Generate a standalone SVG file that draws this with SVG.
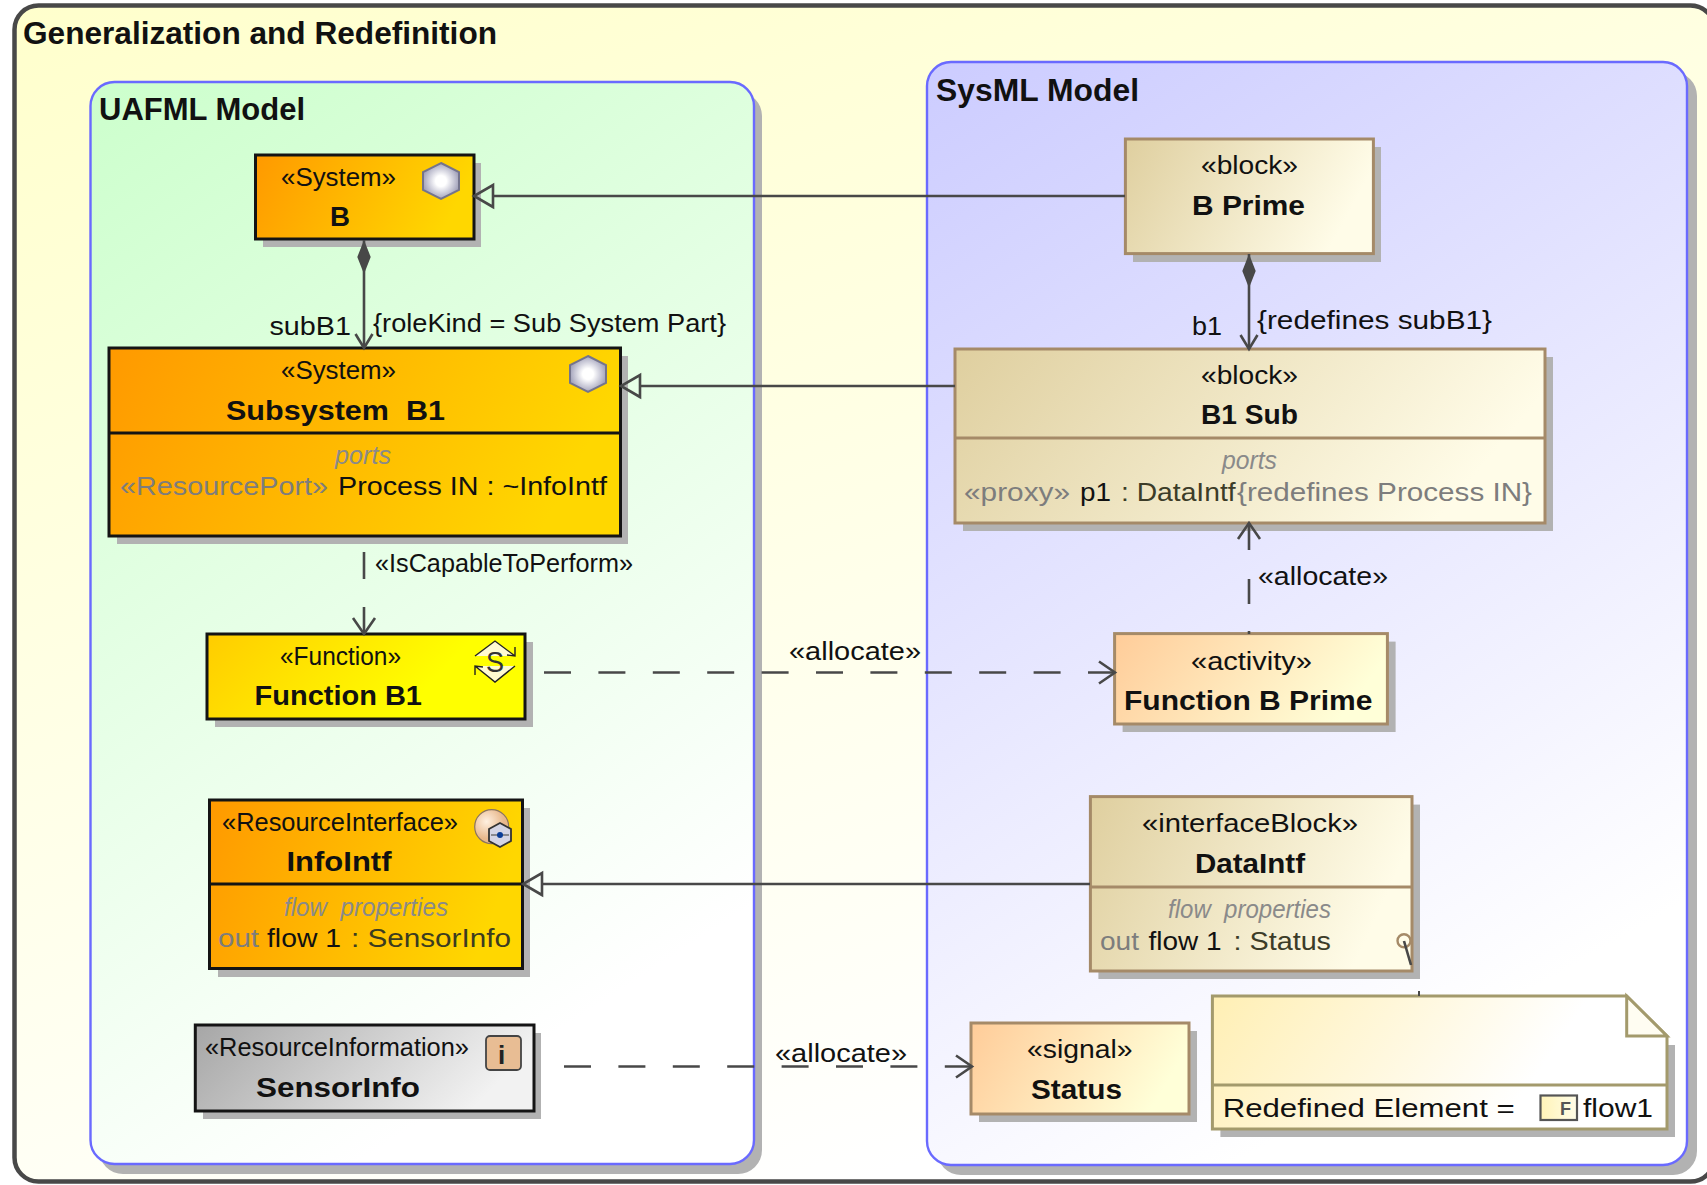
<svg xmlns="http://www.w3.org/2000/svg" width="1707" height="1185" viewBox="0 0 1707 1185">
<style>
text{font-family:"Liberation Sans",Arial,sans-serif;fill:#111;font-size:26px}
.n{font-size:25px}
.b{font-weight:bold;font-size:27px}
.h{font-weight:bold;font-size:31px}
.i{font-style:italic;fill:#8a8a8a;font-size:25px}
.g{fill:#7d7d7d}
.sh{fill:#b2b2b2}
.k{stroke:#141414;stroke-width:3}
.t{stroke:#a58a68;stroke-width:3}
.c{fill:none;stroke:#484848;stroke-width:2.6}
.m{fill:none;stroke:#484848;stroke-width:2.6}
.d{stroke-dasharray:27 27.4}
.hex{fill:url(#hexG);stroke:#74748c;stroke-width:2}
</style>
<defs>
<linearGradient id="frameG" x1="0" y1="0" x2="0.5" y2="1"><stop offset="0" stop-color="#ffffcc"/><stop offset="1" stop-color="#ffffff"/></linearGradient>
<linearGradient id="greenG" x1="0" y1="0" x2="0.4" y2="1"><stop offset="0" stop-color="#ccffcc"/><stop offset="1" stop-color="#ffffff"/></linearGradient>
<linearGradient id="blueG" x1="0" y1="0" x2="0.4" y2="1"><stop offset="0" stop-color="#ccccff"/><stop offset="1" stop-color="#ffffff"/></linearGradient>
<linearGradient id="orangeG" x1="0" y1="0" x2="1" y2="0.2"><stop offset="0" stop-color="#ff9900"/><stop offset="1" stop-color="#ffd700"/></linearGradient>
<linearGradient id="yellowG" x1="0" y1="0" x2="1" y2="0.25"><stop offset="0" stop-color="#ffcc00"/><stop offset="0.8" stop-color="#ffff00"/><stop offset="1" stop-color="#ffff00"/></linearGradient>
<linearGradient id="grayG" x1="0" y1="0" x2="1" y2="0.25"><stop offset="0" stop-color="#a6a6a6"/><stop offset="1" stop-color="#f2f2f2"/></linearGradient>
<linearGradient id="tanG" x1="0" y1="0" x2="1" y2="0.25"><stop offset="0" stop-color="#dfcf9f"/><stop offset="1" stop-color="#fffce8"/></linearGradient>
<linearGradient id="peachG" x1="0" y1="0" x2="1" y2="0.25"><stop offset="0" stop-color="#ffcc99"/><stop offset="1" stop-color="#ffffd8"/></linearGradient>
<linearGradient id="noteG" x1="0" y1="0" x2="1" y2="0.2"><stop offset="0" stop-color="#ffefb4"/><stop offset="0.8" stop-color="#ffffff"/></linearGradient>
<linearGradient id="fG" x1="0" y1="0" x2="1" y2="0"><stop offset="0" stop-color="#fff3b8"/><stop offset="1" stop-color="#fffde8"/></linearGradient>
<radialGradient id="hexG"><stop offset="0.3" stop-color="#ffffff"/><stop offset="1" stop-color="#a4a4bc"/></radialGradient>
<radialGradient id="ballG" cx="0.35" cy="0.35"><stop offset="0" stop-color="#fff0e0"/><stop offset="1" stop-color="#e8b88c"/></radialGradient>
<marker id="tri" markerUnits="userSpaceOnUse" markerWidth="24" markerHeight="30" refX="0" refY="15" orient="auto" overflow="visible"><path class="m" d="M0,4 L19,15 L0,26 Z"/></marker>
<marker id="open" markerUnits="userSpaceOnUse" markerWidth="24" markerHeight="30" refX="16" refY="15" orient="auto" overflow="visible"><path class="m" d="M0,4 L16,15 L0,26"/></marker>
<marker id="openS" markerUnits="userSpaceOnUse" markerWidth="24" markerHeight="30" refX="14" refY="15" orient="auto" overflow="visible"><path class="m" d="M0,6.5 L14,15 L0,23.5"/></marker>
<marker id="dia" markerUnits="userSpaceOnUse" markerWidth="40" markerHeight="20" refX="0" refY="10" orient="auto" overflow="visible"><path d="M0,10 L17,3.300 L34,10 L17,16.700 Z" fill="#484848"/></marker>
</defs>

<g id="frame">
<rect x="14.500" y="5.500" width="1700" height="1176" rx="24" fill="url(#frameG)" stroke="#484848" stroke-width="4.500"/>
<text class="h" x="23" y="43.500" textLength="474" lengthAdjust="spacingAndGlyphs">Generalization and Redefinition</text>
</g>

<g id="uafml-model">
<rect x="99" y="92" width="663" height="1082" rx="24" class="sh"/>
<rect x="90.500" y="82" width="663.500" height="1082" rx="24" fill="url(#greenG)" stroke="#6a6aff" stroke-width="2.400"/>
<text class="h" x="99" y="120" textLength="206" lengthAdjust="spacingAndGlyphs">UAFML Model</text>
</g>

<g id="sysml-model">
<rect x="937" y="72" width="760" height="1103" rx="24" class="sh"/>
<rect x="927" y="62" width="760" height="1103" rx="24" fill="url(#blueG)" stroke="#6a6aff" stroke-width="2.400"/>
<text class="h" x="936" y="101" textLength="203" lengthAdjust="spacingAndGlyphs">SysML Model</text>
</g>

<g id="node-b">
<rect x="263" y="163" width="218" height="84" class="sh"/>
<rect x="255.500" y="155" width="218.500" height="84" fill="url(#orangeG)" class="k"/>
<text class="n" x="281" y="186" textLength="115" lengthAdjust="spacingAndGlyphs">«System»</text>
<text class="b" x="330" y="226" textLength="20" lengthAdjust="spacingAndGlyphs">B</text>
<path class="hex" d="M441,163 L459,172 L459,190 L441,199 L423,190 L423,172 Z"/>
</g>

<g id="node-subsystem-b1">
<rect x="117" y="356" width="511" height="188" class="sh"/>
<rect x="109" y="348" width="511.500" height="188" fill="url(#orangeG)" class="k"/>
<line x1="109" y1="433" x2="620.500" y2="433" class="k"/>
<text class="n" x="281" y="378.500" textLength="115" lengthAdjust="spacingAndGlyphs">«System»</text>
<text class="b" x="226" y="420" textLength="219" lengthAdjust="spacingAndGlyphs" xml:space="preserve">Subsystem  B1</text>
<path class="hex" d="M588,356 L606,365 L606,383 L588,392 L570,383 L570,365 Z"/>
<text class="i" x="335" y="464" textLength="56" lengthAdjust="spacingAndGlyphs">ports</text>
<text x="120" y="495" class="n"><tspan class="g" textLength="208" lengthAdjust="spacingAndGlyphs">«ResourcePort»</tspan><tspan x="338" textLength="269" lengthAdjust="spacingAndGlyphs">Process IN : ~InfoIntf</tspan></text>
</g>

<g id="node-function-b1">
<rect x="215" y="642" width="318" height="85" class="sh"/>
<rect x="207" y="634" width="318" height="85" fill="url(#yellowG)" class="k"/>
<text class="n" x="280" y="665" textLength="121" lengthAdjust="spacingAndGlyphs">«Function»</text>
<text class="b" x="254.500" y="705" textLength="167.500" lengthAdjust="spacingAndGlyphs">Function B1</text>
<path d="M475,656 L495,641 L515,656 Z M475,666 L495,682 L515,666 Z" fill="#fffbd0" stroke="none"/>
<path d="M475,656 L495,641 L515,656 M507,655 L515,656 L515,647 M475,666 L495,682 L515,666 M483,667 L475,666 L475,675" fill="none" stroke="#222" stroke-width="1.400"/>
<text x="486" y="672" textLength="18" lengthAdjust="spacingAndGlyphs" style="font-size:30px;fill:#333">S</text>
</g>

<g id="node-infointf">
<rect x="218" y="808" width="312" height="169" class="sh"/>
<rect x="209.500" y="800" width="313" height="168.500" fill="url(#orangeG)" class="k"/>
<line x1="209.500" y1="884" x2="522.500" y2="884" class="k"/>
<text class="n" x="222" y="831" textLength="236" lengthAdjust="spacingAndGlyphs">«ResourceInterface»</text>
<text class="b" x="286.500" y="871" textLength="105" lengthAdjust="spacingAndGlyphs">InfoIntf</text>
<circle cx="491.700" cy="826.700" r="17" fill="url(#ballG)" stroke="#8a7460" stroke-width="1.200"/>
<path d="M500,823 L511,829 L511,841 L500,847 L489,841 L489,829 Z" fill="#d4d4e4" stroke="#333" stroke-width="1.800"/>
<path d="M491,835 H509" stroke="#555" stroke-width="1.200"/>
<circle cx="500" cy="835" r="3" fill="#0a3c96"/>
<text class="i" x="284" y="915.500" textLength="164" lengthAdjust="spacingAndGlyphs" xml:space="preserve">flow  properties</text>
<text x="218" y="947" class="n"><tspan class="g" textLength="41" lengthAdjust="spacingAndGlyphs">out</tspan><tspan x="267" textLength="74" lengthAdjust="spacingAndGlyphs">flow 1</tspan><tspan x="351" textLength="160" lengthAdjust="spacingAndGlyphs" style="fill:#3c3c20">: SensorInfo</tspan></text>
</g>

<g id="node-sensorinfo">
<rect x="203" y="1033" width="338" height="86" class="sh"/>
<rect x="195.300" y="1025" width="338.700" height="86" fill="url(#grayG)" class="k"/>
<text class="n" x="205" y="1056" textLength="264" lengthAdjust="spacingAndGlyphs">«ResourceInformation»</text>
<text class="b" x="256" y="1096.500" textLength="164" lengthAdjust="spacingAndGlyphs">SensorInfo</text>
<rect x="486" y="1036" width="35" height="34" rx="4" fill="#e8bd94" stroke="#444" stroke-width="1.800"/>
<text x="498" y="1064" style="font-size:26px;font-weight:bold;fill:#222">i</text>
</g>

<g id="node-b-prime">
<rect x="1133" y="147" width="248" height="115" class="sh"/>
<rect x="1125.400" y="139" width="248" height="114.600" fill="url(#tanG)" class="t"/>
<text class="n" x="1201" y="174" textLength="97" lengthAdjust="spacingAndGlyphs">«block»</text>
<text class="b" x="1192" y="215" textLength="113" lengthAdjust="spacingAndGlyphs">B Prime</text>
</g>

<g id="node-b1-sub">
<rect x="963" y="357" width="590" height="174" class="sh"/>
<rect x="955" y="349" width="590" height="174" fill="url(#tanG)" class="t"/>
<line x1="955" y1="438" x2="1545" y2="438" class="t"/>
<text class="n" x="1201" y="383.600" textLength="97" lengthAdjust="spacingAndGlyphs">«block»</text>
<text class="b" x="1201" y="424" textLength="97" lengthAdjust="spacingAndGlyphs">B1 Sub</text>
<text class="i" x="1222" y="468.600" textLength="55" lengthAdjust="spacingAndGlyphs">ports</text>
<text x="964" y="500.700" class="n"><tspan class="g" textLength="106" lengthAdjust="spacingAndGlyphs">«proxy»</tspan><tspan x="1080" textLength="31" lengthAdjust="spacingAndGlyphs">p1</tspan><tspan x="1121" textLength="114.600" lengthAdjust="spacingAndGlyphs" style="fill:#3c3c28">: DataIntf</tspan><tspan class="g" x="1237" textLength="295" lengthAdjust="spacingAndGlyphs">{redefines Process IN}</tspan></text>
</g>

<g id="node-function-b-prime">
<rect x="1122.600" y="641.600" width="273" height="90.400" class="sh"/>
<rect x="1114.600" y="633.600" width="272.800" height="90.400" fill="url(#peachG)" class="t"/>
<text class="n" x="1191" y="670" textLength="121" lengthAdjust="spacingAndGlyphs">«activity»</text>
<text class="b" x="1124" y="710" textLength="248.500" lengthAdjust="spacingAndGlyphs">Function B Prime</text>
</g>

<g id="node-dataintf">
<rect x="1098.400" y="804.600" width="321.600" height="174.400" class="sh"/>
<rect x="1090.400" y="796.600" width="321.600" height="174.400" fill="url(#tanG)" class="t"/>
<line x1="1090.400" y1="887" x2="1412" y2="887" class="t"/>
<text class="n" x="1142" y="832" textLength="216" lengthAdjust="spacingAndGlyphs">«interfaceBlock»</text>
<text class="b" x="1195" y="873" textLength="110" lengthAdjust="spacingAndGlyphs">DataIntf</text>
<text class="i" x="1168" y="918" textLength="163" lengthAdjust="spacingAndGlyphs" xml:space="preserve">flow  properties</text>
<text x="1100" y="950" class="n"><tspan class="g" textLength="39" lengthAdjust="spacingAndGlyphs">out</tspan><tspan x="1148.600" textLength="73" lengthAdjust="spacingAndGlyphs">flow 1</tspan><tspan x="1233.500" textLength="97.500" lengthAdjust="spacingAndGlyphs" style="fill:#3c3c28">: Status</tspan></text>
<circle cx="1404" cy="940.700" r="6.500" fill="none" stroke="#a58a68" stroke-width="2.400"/>
</g>

<g id="node-status">
<rect x="979" y="1031" width="218" height="91" class="sh"/>
<rect x="971" y="1023" width="218" height="91" fill="url(#peachG)" class="t"/>
<text class="n" x="1027" y="1058" textLength="105.600" lengthAdjust="spacingAndGlyphs">«signal»</text>
<text class="b" x="1031" y="1099" textLength="91" lengthAdjust="spacingAndGlyphs">Status</text>
</g>

<g id="node-note">
<path class="sh" d="M1220.400,1045 H1675 V1137 H1220.400 Z"/>
<path d="M1212.400,996 H1626.700 L1667,1036 V1129 H1212.400 Z" fill="url(#noteG)" stroke="#a39a6c" stroke-width="3"/>
<path d="M1626.700,996 V1036 H1667 Z" fill="#fffdf2" stroke="#a39a6c" stroke-width="3"/>
<line x1="1212.400" y1="1085" x2="1667" y2="1085" stroke="#a39a6c" stroke-width="3"/>
<text x="1222.700" y="1117" textLength="292" lengthAdjust="spacingAndGlyphs">Redefined Element =</text>
<rect x="1540.500" y="1095.500" width="36.500" height="24.500" fill="url(#fG)" stroke="#555" stroke-width="2.200"/>
<text x="1560" y="1115" style="font-size:18px;font-weight:bold;fill:#555">F</text>
<text x="1583" y="1117" textLength="70" lengthAdjust="spacingAndGlyphs">flow1</text>
</g>

<g id="connectors">
<line class="c" x1="1125" y1="196" x2="493" y2="196" marker-end="url(#tri)"/>
<line class="c" x1="955" y1="386" x2="640" y2="386" marker-end="url(#tri)"/>
<line class="c" x1="1090" y1="884" x2="542" y2="884" marker-end="url(#tri)"/>
<line class="c" x1="364" y1="240" x2="364" y2="348" marker-start="url(#dia)" marker-end="url(#openS)"/>
<line class="c" x1="1249" y1="254" x2="1249" y2="349" marker-start="url(#dia)" marker-end="url(#openS)"/>
<line class="c" x1="364" y1="552" x2="364" y2="579"/>
<line class="c" x1="364" y1="607" x2="364" y2="634" marker-end="url(#open)"/>
<line class="c d" x1="544" y1="672.500" x2="1115" y2="672.500" marker-end="url(#open)"/>
<line class="c d" x1="564" y1="1066.500" x2="972" y2="1066.500" marker-end="url(#open)"/>
<line class="c" x1="1249" y1="550" x2="1249" y2="523" marker-end="url(#open)"/>
<line class="c" x1="1249" y1="579" x2="1249" y2="604"/>
<line class="c" x1="1249" y1="631" x2="1249" y2="634"/>
<line class="c" x1="1404" y1="941" x2="1411" y2="965"/>
<line class="c" x1="1419" y1="991" x2="1419" y2="996" style="stroke-width:2"/>
<text x="269.500" y="335" textLength="81.500" lengthAdjust="spacingAndGlyphs">subB1</text>
<text x="373" y="332" textLength="353" lengthAdjust="spacingAndGlyphs">{roleKind = Sub System Part}</text>
<text class="n" x="375" y="572" textLength="258" lengthAdjust="spacingAndGlyphs">«IsCapableToPerform»</text>
<text x="789" y="660" textLength="132" lengthAdjust="spacingAndGlyphs">«allocate»</text>
<text x="775" y="1062" textLength="132" lengthAdjust="spacingAndGlyphs">«allocate»</text>
<text x="1192" y="334.600" textLength="30" lengthAdjust="spacingAndGlyphs">b1</text>
<text x="1257" y="329" textLength="235" lengthAdjust="spacingAndGlyphs">{redefines subB1}</text>
<text x="1258" y="585" textLength="130" lengthAdjust="spacingAndGlyphs">«allocate»</text>
</g>
</svg>
